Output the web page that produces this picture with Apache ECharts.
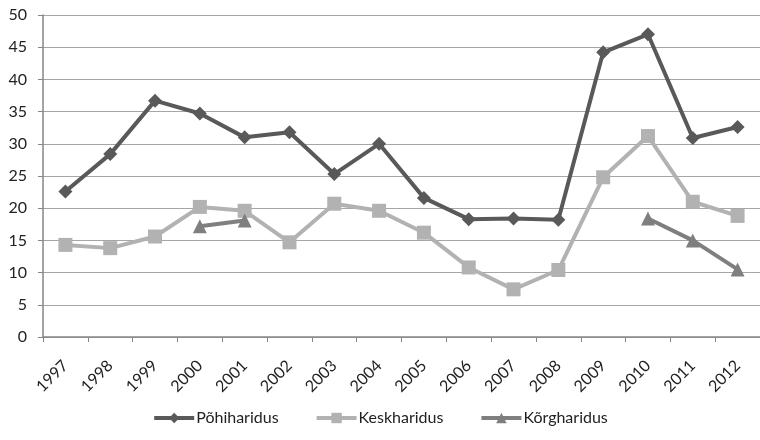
<!DOCTYPE html>
<html>
<head>
<meta charset="utf-8">
<script src="https://cdn.jsdelivr.net/npm/echarts@6/dist/echarts.min.js"></script>
<style>
  html, body { margin: 0; padding: 0; background: #fff; }
  #chart { width: 760px; height: 440px; }
</style>
</head>
<body>
<div id="chart"></div>
<script>
var years = ['1997', '1998', '1999', '2000', '2001', '2002', '2003', '2004',
             '2005', '2006', '2007', '2008', '2009', '2010', '2011', '2012'];
var pohiharidus = [22.6, 28.4, 36.7, 34.7, 31.0, 31.8, 25.3, 30.0,
                   21.6, 18.3, 18.4, 18.2, 44.2, 47.0, 30.9, 32.6];
var keskharidus = [14.3, 13.8, 15.6, 20.2, 19.6, 14.7, 20.7, 19.6,
                   16.2, 10.8, 7.4, 10.4, 24.8, 31.2, 21.0, 18.8];
var korgharidus = [null, null, null, 17.2, 18.1, null, null, null,
                   null, null, null, null, null, 18.4, 15.0, 10.5];

var font = 'Lato, "Open Sans", sans-serif';
var chart = echarts.init(document.getElementById('chart'));

function line(name, data, color, symbol, size) {
  return {
    name: name,
    type: 'line',
    data: data,
    symbol: symbol,
    symbolSize: size,
    connectNulls: false,
    lineStyle: { color: color, width: 4 },
    itemStyle: { color: color },
    animation: false
  };
}

chart.setOption({
  textStyle: { fontFamily: font },
  grid: { left: 43, top: 15, width: 721, bottom: 103 },
  legend: {
    bottom: 9,
    left: 'center',
    itemWidth: 40,
    itemHeight: 13,
    itemGap: 36,
    lineStyle: { width: 4 },
    textStyle: { fontSize: 16, color: '#222', fontFamily: font, padding: [0, 0, 0, -3] },
    data: ['Põhiharidus', 'Keskharidus', 'Kõrgharidus']
  },
  xAxis: {
    type: 'category',
    data: years,
    boundaryGap: true,
    axisLine: { lineStyle: { color: '#868686', width: 1.5 } },
    axisTick: { show: true, length: 5, lineStyle: { color: '#868686' } },
    axisLabel: { rotate: 45, color: '#222', fontSize: 16, margin: 26, fontFamily: font }
  },
  yAxis: {
    type: 'value',
    min: 0,
    max: 50,
    interval: 5,
    axisLine: { show: true, lineStyle: { color: '#868686', width: 1.5 } },
    axisTick: { show: true, length: 5, lineStyle: { color: '#868686' } },
    splitLine: { lineStyle: { color: '#a6a6a6', width: 1.2 } },
    axisLabel: { color: '#222', fontSize: 16, margin: 16, fontFamily: font }
  },
  series: [
    line('Põhiharidus', pohiharidus, '#595959', 'diamond', 14),
    line('Keskharidus', keskharidus, '#b2b2b2', 'rect', 14),
    line('Kõrgharidus', korgharidus, '#7f7f7f', 'triangle', 14)
  ]
});
</script>
</body>
</html>
